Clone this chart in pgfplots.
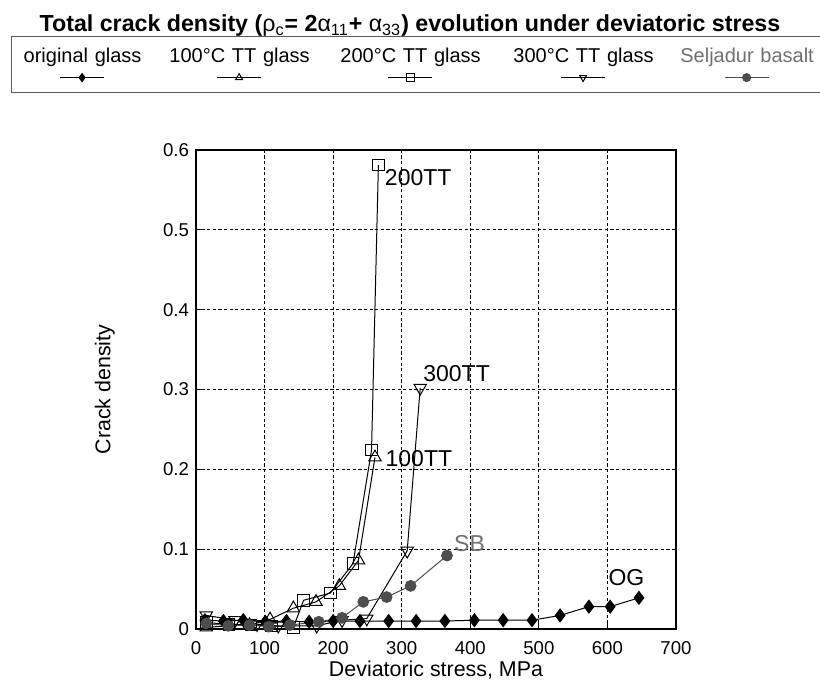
\documentclass[border=0pt]{standalone}
\usepackage{fontspec}
\setmainfont{Liberation Sans}
\usepackage{pgfplots}
\pgfplotsset{compat=1.18}
\definecolor{sbgray}{HTML}{4D4D4D}
\definecolor{sblabel}{HTML}{707070}
\pgfplotsset{
  legimg/.style={legend image code/.code={
    \draw[overlay, mark repeat=2, mark phase=2, mark size=2pt] plot coordinates {(#1-11pt,-7.4pt) (#1,-7.4pt) (#1+11pt,-7.4pt)};
    \path (0pt,0pt);
  }}
}
\tikzset{legtxt/.style={text width=#1, align=center, anchor=base west, inner xsep=0pt, inner ysep=5.9pt, text height=7.2pt, text depth=9pt},
  dlab/.style={anchor=west, inner sep=0pt, font=\fontsize{11.5}{13}\selectfont}}
\begin{document}
\begin{tikzpicture}
\path[use as bounding box] (0,0) rectangle (410pt,345pt);
\node[font=\fontsize{11.6}{13}\selectfont\bfseries] at (205pt,332pt)
  {Total crack density ({\mdseries ρ}\textsubscript{\mdseries c}= 2{\mdseries α}\textsubscript{\mdseries 11}+ {\mdseries α}\textsubscript{\mdseries 33}) evolution under deviatoric stress};
\begin{axis}[
  at={(98pt,30.5pt)}, anchor=south west,
  scale only axis, width=240pt, height=239.5pt,
  xmin=0, xmax=700, ymin=0, ymax=0.6,
  xtick={0,100,...,700},
  ytick={0,0.1,0.2,0.3,0.4,0.5,0.6},
  yticklabel style={/pgf/number format/fixed, /pgf/number format/precision=1},
  xticklabel style={yshift=-2.5pt},
  /pgf/number format/assume math mode=true,
  ticklabel style={font=\fontsize{9.3}{10}\selectfont},
  tick align=inside, major tick length=3pt, tick style={black, line width=0.5pt},
  xtick pos=left, ytick pos=left,
  grid=major, grid style={black, line width=0.45pt, dash pattern=on 1.6pt off 1.2pt},
  axis line style={black, line width=0.8pt},
  xlabel={Deviatoric stress, MPa}, ylabel={Crack density},
  label style={font=\fontsize{10.7}{12}\selectfont},
  xlabel style={at={(axis description cs:0.5,-0.086)}, anchor=center},
  ylabel style={at={(axis description cs:-0.19,0.5)}, anchor=center},
  clip=false,
  legend columns=5,
  legend style={at={(axis description cs:-0.3854,1.238)}, anchor=north west,
    draw=black!65, line width=0.6pt, inner sep=0pt, column sep=0pt,
    font=\fontsize{10}{12}\selectfont,
    /tikz/every even column/.style={column sep=0pt},
    /tikz/every odd column/.style={column sep=0pt}},
]
\addplot[black, line width=0.5pt, mark=diamond*, mark size=3.2pt, mark options={fill=black}, legimg=35pt] coordinates {
(13,0.011) (40,0.010) (69,0.011) (101,0.009) (132,0.010) (165,0.009) (200,0.010) (239,0.010) (281,0.010) (321,0.010) (363,0.010) (406,0.011) (448,0.011) (490,0.011) (531,0.017) (573,0.028) (604,0.028) (646,0.039)};
\addlegendentry[legtxt=70pt]{original glass}
\addplot[black, line width=0.5pt, mark=triangle, mark size=3.6pt, mark options={solid, fill=white}, legimg=43pt] coordinates {
(15,0.002) (48,0.004) (78,0.005) (108,0.012) (142,0.026) (175,0.034) (209,0.054) (237,0.086) (261,0.215)};
\addlegendentry[legtxt=86pt]{100°C TT glass}
\addplot[black, line width=0.5pt, mark=square, mark size=2.9pt, mark options={solid, fill=white}, legimg=42pt] coordinates {
(15,0.008) (48,0.006) (80,0.005) (110,0.004) (142,0.002) (157,0.036) (196,0.045) (229,0.082) (256,0.224) (266,0.581)};
\addlegendentry[legtxt=84pt]{200°C TT glass}
\addplot[black, line width=0.5pt, mark=triangle, mark size=3.6pt, mark options={solid, fill=white, rotate=180}, legimg=44pt] coordinates {
(15,0.017) (57,0.011) (89,0.006) (120,0.004) (176,0.004) (213,0.011) (249,0.013) (308,0.098) (327,0.302)};
\addlegendentry[legtxt=88pt]{300°C TT glass}
\addplot[sbgray, line width=0.5pt, mark=*, mark size=2.7pt, mark options={fill=sbgray, draw=sbgray}, legimg=37.25pt] coordinates {
(15,0.007) (47,0.004) (78,0.005) (106,0.003) (137,0.005) (179,0.009) (213,0.014) (244,0.034) (278,0.040) (313,0.054) (366,0.092)};
\addlegendentry[legtxt=74.5pt, text=sblabel]{Seljadur basalt}
\node[dlab] at (axis cs:275,0.565) {200TT};
\node[dlab] at (axis cs:331,0.320) {300TT};
\node[dlab] at (axis cs:276,0.214) {100TT};
\node[dlab, text=sblabel] at (axis cs:376,0.107) {SB};
\node[dlab] at (axis cs:601,0.065) {OG};
\end{axis}
\end{tikzpicture}
\end{document}
